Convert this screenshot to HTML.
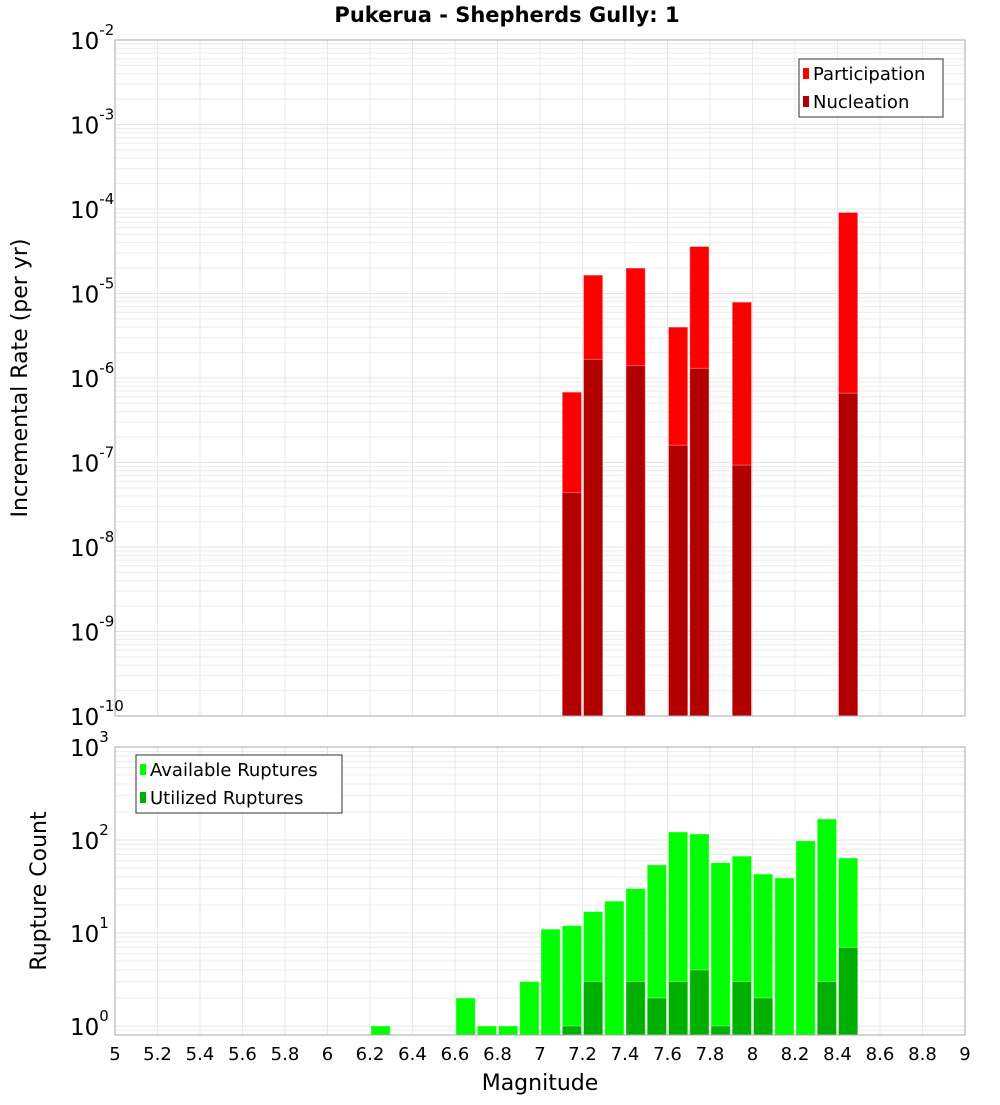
<!DOCTYPE html>
<html><head><meta charset="utf-8"><style>
body{margin:0;background:#fff;}
svg text{font-family:"DejaVu Sans","Liberation Sans",sans-serif;}
</style></head><body>
<svg id="c" width="1000" height="1100" xmlns="http://www.w3.org/2000/svg">
<rect width="1000" height="1100" fill="#fff"/>
<text x="507" y="22" text-anchor="middle" font-size="21" font-weight="bold">Pukerua - Shepherds Gully: 1</text>
<g id="topPanel"></g><g id="botPanel"></g>
<text transform="translate(27,378) rotate(-90)" text-anchor="middle" font-size="22">Incremental Rate (per yr)</text>
<text transform="translate(46,891) rotate(-90)" text-anchor="middle" font-size="22">Rupture Count</text>
<text x="540" y="1090" text-anchor="middle" font-size="22">Magnitude</text>
</svg>
<script>
const rateMags=[7.15,7.25,7.45,7.65,7.75,7.95,8.45];
const participation=[6.8e-7,1.65e-5,2.0e-5,4.0e-6,3.6e-5,7.9e-6,9.1e-5];
const nucleation=[4.4e-8,1.66e-6,1.4e-6,1.6e-7,1.3e-6,9.3e-8,6.6e-7];
const countMags=[6.25,6.65,6.75,6.85,6.95,7.05,7.15,7.25,7.35,7.45,7.55,7.65,7.75,7.85,7.95,8.05,8.15,8.25,8.35,8.45];
const available=[1,2,1,1,3,11,12,17,22,30,54,122,116,57,67,43,39,98,168,64];
const utilized=[0,0,0,0,0,0,1,3,0,3,2,3,4,1,3,2,0,0,3,7];
const xTicks=[5,5.2,5.4,5.6,5.8,6,6.2,6.4,6.6,6.8,7,7.2,7.4,7.6,7.8,8,8.2,8.4,8.6,8.8,9];
const topExp=[-2,-3,-4,-5,-6,-7,-8,-9,-10];
const botExp=[0,1,2,3];
const NS="http://www.w3.org/2000/svg";
const X0=115,X1=965;
const xs=m=>X0+(m-5)/4*(X1-X0);
const yTop=v=>40+(-2-Math.log10(v))*84.5;
const yBot=v=>1026-Math.log10(v)*93;
function el(p,t,a){const e=document.createElementNS(NS,t);for(const k in a)e.setAttribute(k,a[k]);p.appendChild(e);return e;}
function panel(g,y0,y1,yf,emin,emax,name){
  el(g,'rect',{x:X0,y:y0,width:X1-X0,height:y1-y0,fill:'#fff'});
  for(let e=emin;e<emax;e++)for(let k=1;k<10;k++){const y=yf(k*Math.pow(10,e));if(y<y0||y>y1)continue;
    const l=el(g,'line',{x1:X0,x2:X1,y1:y,y2:y,stroke:k==1?'#e4e4e4':'#ececec','stroke-width':1});
    
    }
  xTicks.forEach(t=>{const x=xs(t);const l=el(g,'line',{x1:x,x2:x,y1:y0,y2:y1,stroke:'#e8e8e8'});
    
    });
}
function label(g,e,y,name){const t=el(g,'text',{x:70,y:y+9,'font-size':23});
  
  
  t.appendChild(document.createTextNode('10'));
  const s=el(t,'tspan',{dy:-14,'font-size':15});s.textContent=String(e);}
function bar(g,m,v,yf,yb,fill,name){const x=xs(m-0.05)+1,w=xs(m+0.05)-xs(m-0.05)-2;const y=yf(v);
  const r=el(g,'rect',{x:x,y:y,width:w,height:yb-y,fill:fill,stroke:'rgba(255,255,255,0.35)','stroke-width':1});
  
  }
const topG=document.getElementById('topPanel'),botG=document.getElementById('botPanel');
panel(topG,40,716,yTop,-10,-2,'top');
rateMags.forEach((m,i)=>bar(topG,m,participation[i],yTop,716,'#ff0000','participation-bar'));
rateMags.forEach((m,i)=>bar(topG,m,nucleation[i],yTop,716,'#b20000','nucleation-bar'));
el(topG,'rect',{x:X0,y:40,width:X1-X0,height:676,fill:'none',stroke:'#aaa'});
topExp.forEach(e=>label(topG,e,yTop(Math.pow(10,e)),'top-y-tick-label'));
panel(botG,747,1035,yBot,-1,3,'bottom');
countMags.forEach((m,i)=>bar(botG,m,available[i],yBot,1035,'#00ff00','available-bar'));
countMags.forEach((m,i)=>{if(utilized[i]>0)bar(botG,m,utilized[i],yBot,1035,'#00b000','utilized-bar');});
el(botG,'rect',{x:X0,y:747,width:X1-X0,height:288,fill:'none',stroke:'#aaa'});
botExp.forEach(e=>label(botG,e,yBot(Math.pow(10,e)),'bottom-y-tick-label'));
xTicks.forEach(t=>{const tx=el(botG,'text',{x:xs(t),y:1060,'text-anchor':'middle','font-size':18});
  
  
  tx.textContent=String(t);});
function legend(g,x,y,w,items,name){const lg=el(g,'g',{});
  
  
  el(lg,'rect',{x:x,y:y,width:w,height:58,fill:'#fff',stroke:'#333'});
  items.forEach((it,i)=>{el(lg,'rect',{x:x+4,y:y+9+i*28,width:6,height:11,fill:it[1]});
    const t=el(lg,'text',{x:x+14,y:y+21+i*28,'font-size':18});t.textContent=it[0];});}
legend(topG,799,59,144,[['Participation','#ff0000'],['Nucleation','#b20000']],'top-legend');
legend(botG,136,755,206,[['Available Ruptures','#00ff00'],['Utilized Ruptures','#00b000']],'bottom-legend');
</script>
</body></html>
